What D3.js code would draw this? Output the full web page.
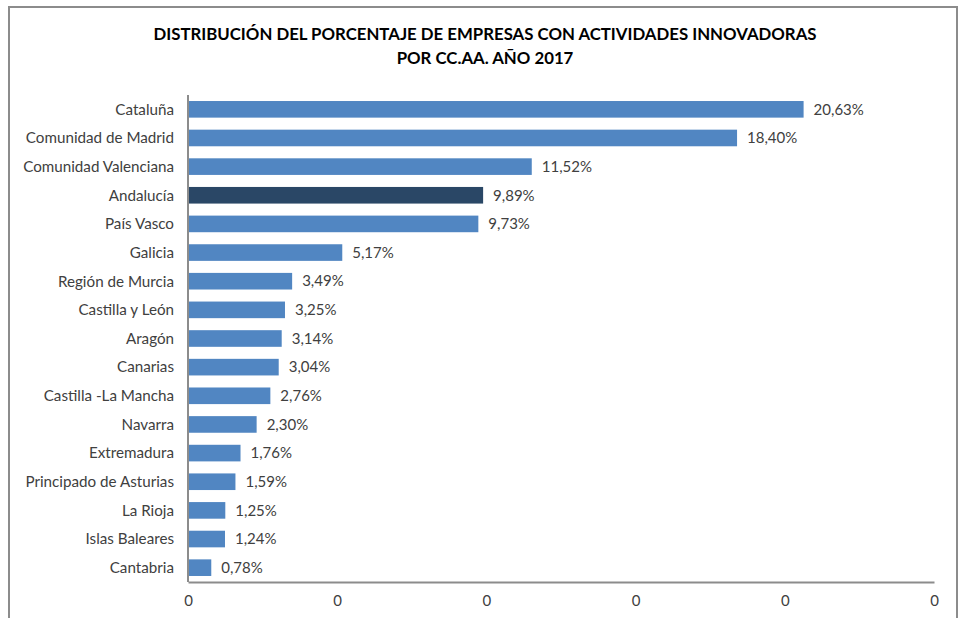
<!DOCTYPE html>
<html lang="es">
<head>
<meta charset="UTF-8">
<title>Empresas con actividades innovadoras por CC.AA. 2017</title>
<script src="https://d3js.org/d3.v7.min.js"></script>
<style>
  body { margin: 0; background: #fff; font-family: Lato, "Open Sans", sans-serif; }
  .lbl { font-size: 15px; fill: #404040; }
  .cat { font-size: 15.2px; }
  .axis text { font-size: 15px; fill: #404040; font-family: Lato, sans-serif; }
  .axis path { stroke: #8c8c8c; stroke-width: 2; }
  .axis line { display: none; }
</style>
</head>
<body>
<script>
// data
var regions = ["Cataluña", "Comunidad de Madrid", "Comunidad Valenciana", "Andalucía", "País Vasco",
  "Galicia", "Región de Murcia", "Castilla y León", "Aragón", "Canarias", "Castilla -La Mancha",
  "Navarra", "Extremadura", "Principado de Asturias", "La Rioja", "Islas Baleares", "Cantabria"];
var shares = [20.63, 18.40, 11.52, 9.89, 9.73, 5.17, 3.49, 3.25, 3.14, 3.04, 2.76, 2.30, 1.76, 1.59, 1.25, 1.24, 0.78];
var highlight = "Andalucía";
var xTicks = [0, 5, 10, 15, 20, 25];
var titleLines = ["DISTRIBUCIÓN DEL PORCENTAJE DE EMPRESAS CON ACTIVIDADES INNOVADORAS", "POR CC.AA. AÑO 2017"];

var W = 960, H = 618;
var svg = d3.select("body").append("svg").attr("width", W).attr("height", H);

// frame (no bottom edge visible)
svg.append("path")
  .attr("d", "M9,618 V7 H957 V618")
  .attr("fill", "none").attr("stroke", "#8c8c8c").attr("stroke-width", 2);

// title
svg.selectAll(".title").data(titleLines).enter().append("text")
  .attr("class", "title")
  .attr("x", 485).attr("y", function(d, i) { return 40 + i * 24; })
  .attr("text-anchor", "middle")
  .style("font-size", "16.8px").style("font-weight", "bold").style("fill", "#000")
  .text(function(d) { return d; });

var x = d3.scaleLinear().domain([0, 25]).range([188, 934]);
var y = d3.scaleBand().domain(regions).range([95, 582]).paddingInner(0.42).paddingOuter(0.21);

var data = regions.map(function(r, i) { return {name: r, v: shares[i]}; });

svg.selectAll(".bar").data(data).enter().append("rect")
  .attr("class", "bar")
  .attr("x", x(0))
  .attr("y", function(d) { return y(d.name); })
  .attr("width", function(d) { return x(d.v) - x(0); })
  .attr("height", y.bandwidth())
  .attr("fill", function(d) { return d.name === highlight ? "#2a4766" : "#5186c2"; });

var fmt = d3.format(".2f");
svg.selectAll(".val").data(data).enter().append("text")
  .attr("class", "lbl val")
  .attr("x", function(d) { return x(d.v) + 10; })
  .attr("y", function(d) { return y(d.name) + y.bandwidth() / 2; })
  .attr("dy", "0.35em")
  .text(function(d) { return fmt(d.v).replace(".", ",") + "%"; });

svg.selectAll(".cat").data(data).enter().append("text")
  .attr("class", "lbl cat")
  .attr("x", 174)
  .attr("y", function(d) { return y(d.name) + y.bandwidth() / 2; })
  .attr("dy", "0.35em")
  .attr("text-anchor", "end")
  .text(function(d) { return d.name; });

// x axis: the original shows every tick as "0"
svg.append("g").attr("class", "axis")
  .attr("transform", "translate(0,582)")
  .call(d3.axisBottom(x).tickValues(xTicks).tickSize(0).tickSizeOuter(0).tickPadding(13)
    .tickFormat(function(d) { return d3.format(".0f")(d / 100); }));

// vertical axis line
svg.append("line")
  .attr("x1", x(0)).attr("x2", x(0)).attr("y1", 95).attr("y2", 582)
  .attr("stroke", "#8c8c8c").attr("stroke-width", 2);
</script>
</body>
</html>
